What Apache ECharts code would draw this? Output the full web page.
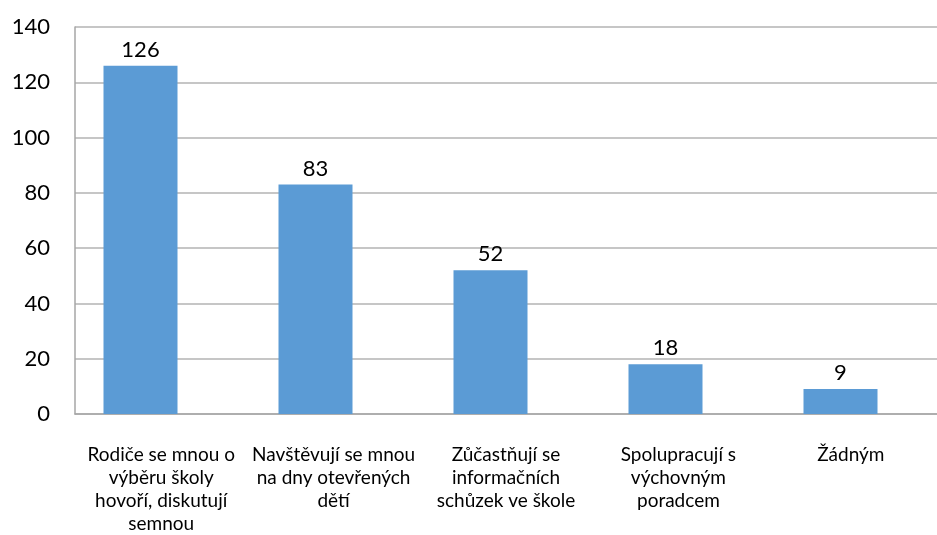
<!DOCTYPE html>
<html>
<head>
<meta charset="utf-8">
<script src="https://cdn.jsdelivr.net/npm/echarts@6/dist/echarts.min.js"></script>
<style>
  html, body { margin: 0; padding: 0; background: #ffffff; }
  #chart { width: 937px; height: 535px; }
</style>
</head>
<body>
<div id="chart"></div>
<script>
const categories = [
  'Rodiče se mnou o\nvýběru školy\nhovoří, diskutují\nsemnou',
  'Navštěvují se mnou\nna dny otevřených\ndětí',
  'Zůčastňují se\ninformačních\nschůzek ve škole',
  'Spolupracují s\nvýchovným\nporadcem',
  'Žádným'
]
const values = [126, 83, 52, 18, 9]
const yTicks = [0, 20, 40, 60, 80, 100, 120, 140]

const chart = echarts.init(document.getElementById('chart'))

const option = {
  backgroundColor: '#ffffff',
  animation: false,
  grid: [
    // bars
    { left: 53, right: 9, top: 27, bottom: 121 },
    // visible frame: axis line, gridlines, tick labels, category labels
    { left: 75, right: -13, top: 27, bottom: 121 }
  ],
  xAxis: [
    {
      type: 'category',
      gridIndex: 0,
      data: categories,
      show: false
    },
    {
      type: 'category',
      gridIndex: 1,
      data: categories,
      axisLine: { show: true, lineStyle: { color: '#a6a6a6', width: 1.5 } },
      axisTick: { show: false },
      axisLabel: {
        interval: 0,
        margin: 29,
        fontFamily: 'Lato',
        fontSize: 19,
        lineHeight: 23,
        color: '#000000'
      }
    }
  ],
  yAxis: [
    {
      type: 'value',
      gridIndex: 0,
      min: yTicks[0],
      max: yTicks[yTicks.length - 1],
      interval: 20,
      show: false
    },
    {
      type: 'value',
      gridIndex: 1,
      min: yTicks[0],
      max: yTicks[yTicks.length - 1],
      interval: 20,
      axisLine: { show: true, lineStyle: { color: '#a6a6a6', width: 1.5 } },
      axisTick: { show: false },
      splitLine: { show: true, lineStyle: { color: '#b3b3b3', width: 1.5 } },
      axisLabel: {
        margin: 25,
        fontFamily: 'Lato',
        fontSize: 22,
        color: '#000000'
      }
    }
  ],
  series: [
    {
      type: 'bar',
      xAxisIndex: 0,
      yAxisIndex: 0,
      barWidth: 74,
      itemStyle: { color: '#5b9bd5' },
      label: {
        show: true,
        position: 'top',
        distance: 5,
        fontFamily: 'Lato',
        fontSize: 22,
        color: '#000000'
      },
      data: values,
      z: 3
    }
  ]
}
chart.setOption(option)
</script>
</body>
</html>
